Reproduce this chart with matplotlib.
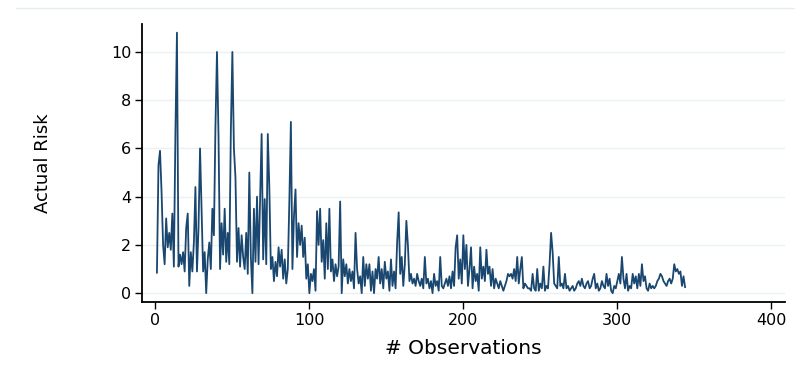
import numpy as np
import matplotlib.pyplot as plt
from matplotlib.lines import Line2D

risk = [
    0.85, 5.3, 5.9, 4.2, 2.0, 1.2, 3.1, 1.9, 2.5, 1.8,
    3.3, 1.1, 6.6, 10.8, 1.1, 1.6, 1.2, 1.7, 0.9, 2.7,
    3.3, 0.3, 1.7, 0.9, 2.1, 4.4, 0.9, 2.7, 6.0, 3.4,
    0.9, 1.7, 0.0, 1.4, 2.1, 1.0, 3.5, 2.4, 6.9, 10.0,
    6.5, 1.0, 2.9, 1.6, 3.5, 1.3, 2.5, 1.2, 6.7, 10.0,
    6.0, 4.8, 1.3, 2.7, 1.1, 2.4, 1.5, 1.0, 2.5, 0.8,
    5.0, 1.5, 0.0, 3.5, 1.3, 4.0, 1.2, 4.0, 6.6, 1.4,
    3.9, 1.2, 6.6, 4.4, 1.0, 1.5, 0.5, 1.3, 0.7, 1.9,
    1.1, 1.8, 0.6, 1.4, 0.4, 1.0, 3.8, 7.1, 1.0, 3.2,
    4.3, 1.5, 2.9, 2.0, 2.8, 1.5, 2.3, 0.6, 1.2, 0.0,
    0.8, 0.5, 1.0, 0.1, 3.4, 2.0, 3.5, 1.3, 2.2, 0.6,
    2.9, 1.0, 3.5, 0.9, 1.4, 0.5, 1.2, 0.7, 1.1, 3.8,
    0.0, 1.4, 0.7, 1.2, 0.4, 1.0, 0.5, 0.9, 0.2, 2.5,
    1.0, 0.4, 0.7, 0.0, 1.5, 0.3, 1.2, 0.6, 1.2, 0.1,
    0.9, 0.0, 1.0, 0.6, 1.5, 0.4, 1.0, 0.2, 1.3, 0.6,
    0.9, 0.1, 1.4, 0.3, 0.9, 0.2, 2.1, 3.35, 0.8, 1.5,
    0.3, 1.2, 3.0, 2.0, 0.5, 0.8, 0.4, 0.6, 0.3, 0.8,
    0.5, 0.3, 0.6, 0.2, 1.5, 0.4, 0.6, 0.2, 0.5, 0.0,
    0.8, 0.3, 0.5, 0.1, 1.5, 0.3, 0.2, 0.4, 0.6, 0.3,
    0.7, 0.2, 0.9, 0.3, 1.9, 2.4, 0.6, 1.4, 0.4, 2.4,
    1.0, 2.0, 0.3, 1.0, 1.9, 0.2, 1.1, 0.5, 0.8, 0.1,
    1.9, 0.6, 1.1, 0.5, 1.8, 0.8, 1.1, 0.3, 1.0, 0.2,
    0.6, 0.4, 0.2, 0.5, 0.3, 0.1, 0.3, 0.5, 0.8, 0.7,
    0.8, 0.6, 1.0, 0.5, 1.5, 0.4, 1.0, 1.5, 0.2, 0.4,
    0.3, 0.2, 0.2, 0.1, 0.8, 0.2, 0.1, 1.0, 0.1, 0.4,
    0.2, 1.1, 0.1, 0.3, 0.2, 1.2, 2.5, 1.7, 0.4, 0.3,
    0.2, 1.5, 0.3, 0.4, 0.2, 0.8, 0.2, 0.3, 0.1, 0.2,
    0.3, 0.1, 0.2, 0.4, 0.5, 0.3, 0.6, 0.3, 0.2, 0.4,
    0.5, 0.2, 0.3, 0.6, 0.8, 0.2, 0.4, 0.1, 0.2, 0.5,
    0.3, 0.2, 0.8, 0.3, 0.6, 0.1, 0.0, 0.3, 0.2, 0.5,
    0.8, 0.4, 1.5, 0.6, 0.2, 0.8, 0.1, 0.3, 0.2, 0.8,
    0.4, 0.7, 0.2, 0.8, 0.3, 1.2, 0.5, 0.7, 0.2, 0.1,
    0.4, 0.2, 0.3, 0.2, 0.3, 0.5, 0.6, 0.8, 0.7, 0.5,
    0.4, 0.3, 0.5, 0.6, 0.4, 0.6, 1.2, 0.9, 1.0, 0.8,
    0.9, 0.3, 0.7, 0.25,
]
obs = np.arange(1, len(risk) + 1)

xticks = [0, 100, 200, 300, 400]
yticks = [0, 2, 4, 6, 8, 10]

fig = plt.figure(figsize=(7.95, 3.69), dpi=100)
ax = fig.add_axes([0.179, 0.182, 0.808, 0.753])

# faint outer frame line at the top of the graph region
fig.add_artist(Line2D([0.02, 1.0], [0.978, 0.978], color='#e6edf0', lw=1))

ax.plot(obs, risk, color='#1a476f', lw=1.3)

ax.set_xlim(-8.5, 408.7)
ax.set_ylim(-0.36, 11.16)
ax.set_xticks(xticks)
ax.set_yticks(yticks)
ax.grid(axis='y', color='#eaf2f3', lw=1)
ax.set_axisbelow(True)

for s in ['top', 'right']:
    ax.spines[s].set_visible(False)
for s in ['left', 'bottom']:
    ax.spines[s].set_linewidth(1.3)

ax.tick_params(axis='both', direction='out', length=5, width=1, labelsize=11.5, pad=3)
ax.set_xlabel('# Observations', fontsize=14.5, labelpad=8)
ax.set_ylabel('Actual Risk', fontsize=13, labelpad=42)

fig.savefig('out.png', dpi=100)
